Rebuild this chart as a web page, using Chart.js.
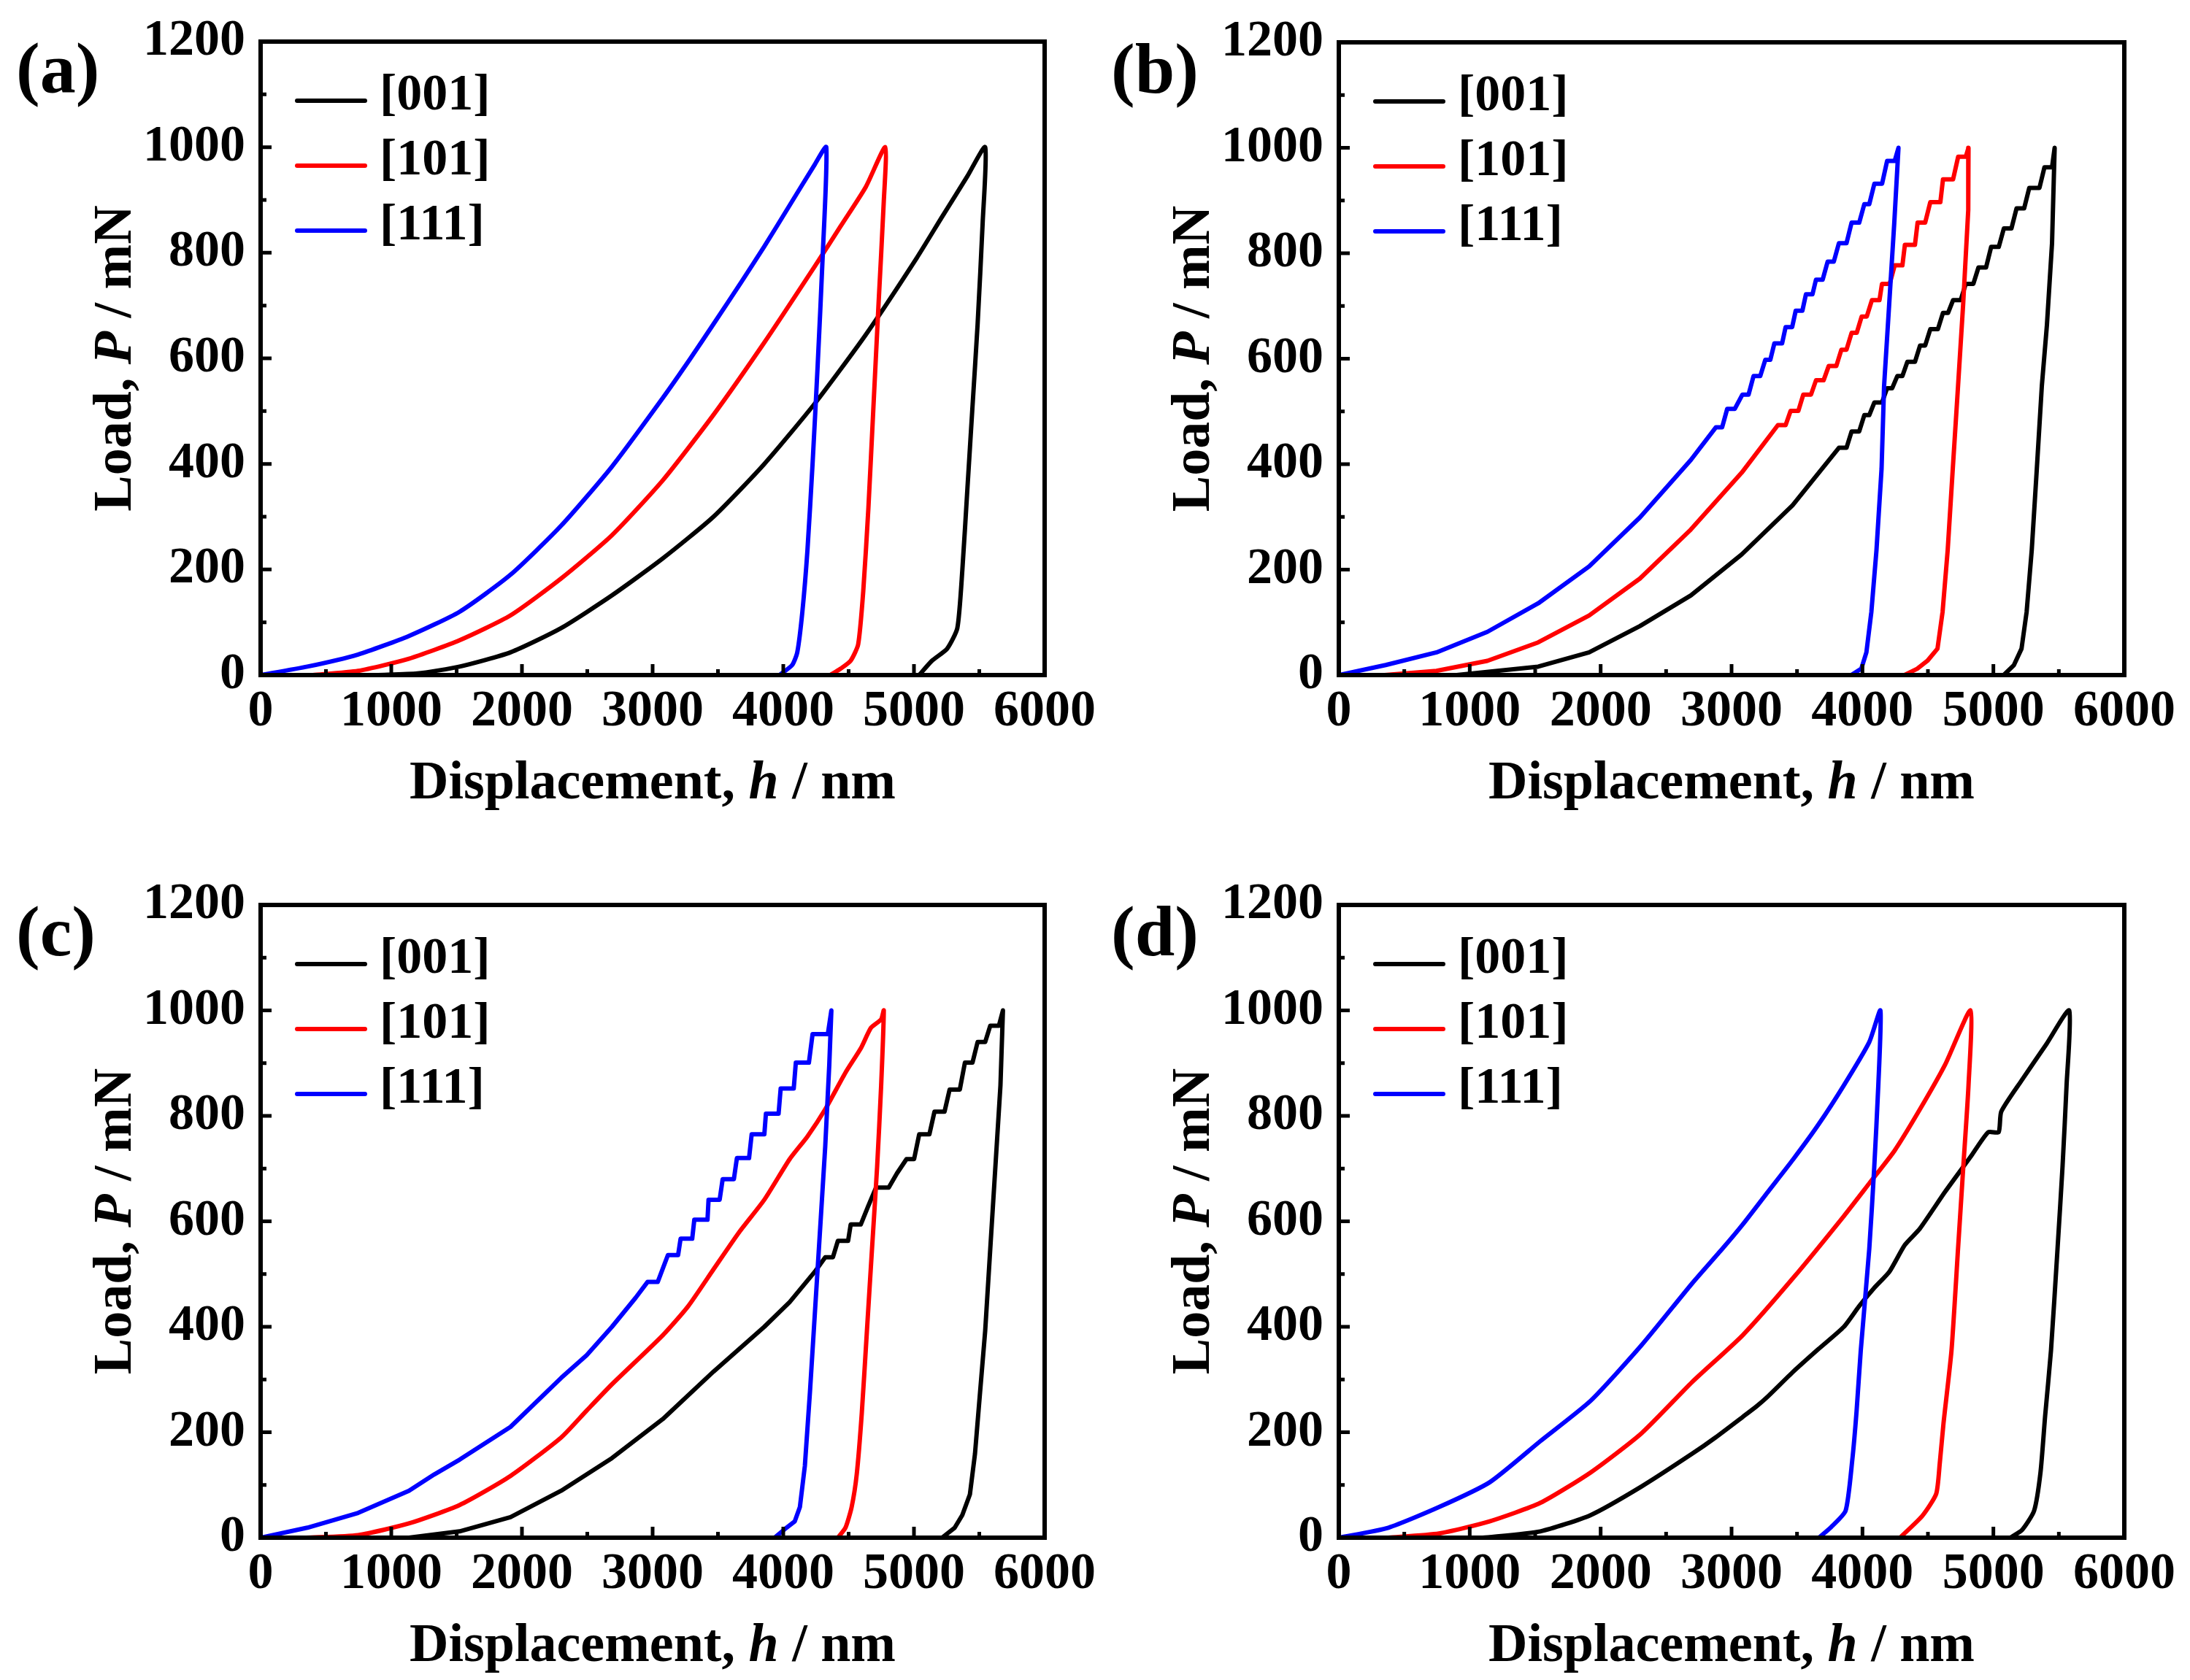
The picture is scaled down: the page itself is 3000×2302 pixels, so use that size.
<!DOCTYPE html>
<html>
<head>
<meta charset="utf-8">
<title>Load-displacement curves</title>
<script src="https://cdn.jsdelivr.net/npm/chart.js@4.4.1/dist/chart.umd.min.js"></script>
<style>
  html, body { margin: 0; padding: 0; background: #fff; }
  body { width: 3000px; height: 2302px; position: relative; overflow: hidden; }
  canvas { position: absolute; }
</style>
</head>
<body>
<canvas id="chartA" width="1560" height="1150" style="left:0px;top:0px"></canvas>
<canvas id="chartB" width="1500" height="1150" style="left:1500px;top:0px"></canvas>
<canvas id="chartC" width="1560" height="1152" style="left:0px;top:1150px"></canvas>
<canvas id="chartD" width="1500" height="1152" style="left:1500px;top:1150px"></canvas>
<script>
// tick labels and series names
const xTickValues = [0, 1000, 2000, 3000, 4000, 5000, 6000];
const yTickValues = [0, 200, 400, 600, 800, 1000, 1200];
const orientations = ['[001]', '[101]', '[111]'];
const panelLabels = ['(a)', '(b)', '(c)', '(d)'];

// (a) displacement h (nm) and load P (mN), loading then unloading
const a001H = [900, 1200, 1523, 1912, 2300, 2689, 3078, 3466, 3855, 4243, 4632, 5021, 5215, 5409, 5545, 5526, 5487, 5448, 5409, 5370, 5332, 5254, 5137, 5040];
const a001P = [0, 3, 16, 43, 89, 151, 221, 300, 400, 515, 645, 790, 868, 945, 1000, 858, 664, 509, 353, 198, 89, 50, 27, 0];
const a101H = [400, 746, 1135, 1523, 1912, 2300, 2689, 3078, 3466, 3855, 4243, 4438, 4632, 4780, 4769, 4729, 4690, 4651, 4612, 4573, 4515, 4438, 4360];
const a101P = [0, 8, 31, 66, 113, 183, 265, 369, 493, 630, 775, 850, 925, 1000, 897, 703, 509, 315, 159, 58, 27, 12, 0];
const a111H = [0, 358, 746, 1135, 1523, 1912, 2300, 2689, 3078, 3290, 3466, 3680, 3855, 4049, 4243, 4329, 4302, 4263, 4224, 4185, 4146, 4107, 4068, 3971];
const a111P = [0, 16, 39, 74, 120, 190, 283, 395, 525, 600, 665, 745, 812, 890, 968, 1000, 796, 586, 400, 237, 120, 43, 19, 0];

// (b)
const b001H = [900, 1523, 1912, 2300, 2689, 3078, 3466, 3820, 3878, 3917, 3975, 4014, 4052, 4091, 4149, 4188, 4227, 4266, 4305, 4343, 4401, 4440, 4479, 4518, 4576, 4615, 4654, 4692, 4750, 4789, 4847, 4886, 4944, 4983, 5041, 5080, 5138, 5177, 5235, 5274, 5352, 5390, 5448, 5468, 5448, 5409, 5370, 5332, 5293, 5254, 5215, 5157, 5079];
const b001P = [0, 16, 43, 93, 151, 229, 322, 431, 431, 462, 462, 493, 493, 517, 517, 544, 544, 567, 567, 594, 594, 625, 625, 656, 656, 687, 687, 711, 711, 742, 742, 773, 773, 812, 812, 847, 847, 885, 885, 924, 924, 963, 963, 1000, 819, 664, 548, 392, 237, 120, 50, 19, 0];
const b101H = [350, 746, 1135, 1523, 1912, 2300, 2689, 3078, 3354, 3413, 3451, 3510, 3548, 3607, 3645, 3703, 3742, 3800, 3839, 3878, 3917, 3956, 3994, 4033, 4072, 4130, 4149, 4208, 4246, 4305, 4324, 4401, 4421, 4479, 4518, 4595, 4615, 4692, 4731, 4789, 4810, 4808, 4769, 4730, 4690, 4651, 4612, 4573, 4496, 4418, 4321];
const b101P = [0, 8, 27, 62, 113, 183, 276, 384, 474, 474, 501, 501, 532, 532, 559, 559, 586, 586, 617, 617, 649, 649, 680, 680, 711, 711, 742, 742, 777, 777, 816, 816, 858, 858, 897, 897, 940, 940, 983, 983, 1000, 882, 703, 548, 392, 237, 120, 50, 27, 12, 0];
const b111H = [0, 358, 746, 1135, 1523, 1912, 2300, 2689, 2881, 2928, 2967, 3025, 3083, 3130, 3168, 3219, 3258, 3296, 3327, 3386, 3413, 3463, 3490, 3541, 3568, 3618, 3645, 3696, 3734, 3781, 3820, 3878, 3917, 3975, 4014, 4052, 4091, 4150, 4188, 4246, 4275, 4243, 4204, 4165, 4146, 4107, 4068, 4030, 3991, 3914];
const b111P = [0, 19, 43, 82, 136, 206, 299, 408, 470, 470, 505, 505, 532, 532, 567, 567, 598, 598, 629, 629, 660, 660, 691, 691, 722, 722, 750, 750, 784, 784, 819, 819, 858, 858, 893, 893, 932, 932, 975, 975, 1000, 858, 703, 548, 392, 237, 120, 43, 12, 0];

// (c)
const c001H = [1135, 1523, 1912, 2300, 2689, 3078, 3466, 3855, 4049, 4243, 4321, 4380, 4418, 4496, 4516, 4593, 4650, 4710, 4807, 4870, 4943, 5001, 5040, 5118, 5157, 5234, 5273, 5351, 5390, 5448, 5487, 5545, 5584, 5650, 5681, 5662, 5623, 5584, 5545, 5506, 5467, 5428, 5370, 5312, 5215];
const c001P = [0, 12, 39, 89, 151, 225, 315, 400, 447, 505, 532, 532, 563, 563, 594, 594, 629, 664, 664, 691, 718, 718, 765, 765, 808, 808, 850, 850, 901, 901, 940, 940, 971, 971, 1000, 858, 703, 548, 392, 276, 159, 82, 43, 19, 0];
const c101H = [350, 746, 1135, 1523, 1912, 2300, 2495, 2689, 3078, 3272, 3466, 3661, 3855, 4049, 4185, 4320, 4476, 4593, 4671, 4749, 4769, 4749, 4718, 4679, 4640, 4601, 4562, 4523, 4476, 4418];
const c101P = [0, 5, 27, 62, 117, 190, 241, 291, 384, 439, 509, 579, 641, 718, 761, 812, 882, 928, 967, 983, 1000, 858, 703, 548, 392, 237, 120, 58, 19, 0];
const c111H = [0, 358, 746, 1135, 1329, 1523, 1912, 2300, 2495, 2689, 2870, 2961, 3039, 3117, 3195, 3214, 3303, 3319, 3420, 3428, 3513, 3536, 3622, 3645, 3738, 3758, 3855, 3867, 3964, 3980, 4080, 4096, 4196, 4224, 4341, 4368, 4352, 4321, 4282, 4243, 4204, 4165, 4127, 4088, 4010, 3933];
const c111P = [0, 19, 47, 89, 120, 148, 210, 303, 346, 400, 455, 485, 485, 536, 536, 567, 567, 603, 603, 641, 641, 680, 680, 720, 720, 765, 765, 804, 804, 852, 852, 901, 901, 955, 955, 1000, 897, 742, 586, 431, 276, 136, 58, 31, 16, 0];

// (d)
const d001H = [1100, 1539, 1925, 2312, 2698, 2877, 3085, 3195, 3278, 3472, 3665, 3858, 3974, 4091, 4207, 4323, 4438, 4631, 4825, 4960, 5040, 5060, 5212, 5405, 5579, 5559, 5528, 5490, 5440, 5395, 5360, 5311, 5220, 5128];
const d001P = [0, 12, 43, 97, 159, 190, 229, 250, 268, 315, 358, 400, 439, 474, 505, 555, 586, 656, 722, 769, 769, 808, 866, 936, 1000, 858, 703, 548, 355, 230, 124, 51, 15, 0];
const d101H = [379, 765, 1152, 1539, 1925, 2312, 2698, 3085, 3472, 3858, 4052, 4245, 4438, 4631, 4825, 4810, 4770, 4730, 4680, 4619, 4590, 4563, 4456, 4286];
const d101P = [0, 8, 31, 66, 124, 198, 295, 384, 493, 610, 672, 734, 812, 897, 1000, 858, 703, 548, 355, 217, 140, 83, 41, 0];
const d111H = [0, 379, 765, 1152, 1539, 1925, 2312, 2698, 2930, 3085, 3278, 3472, 3665, 3858, 4052, 4137, 4121, 4090, 4052, 3987, 3955, 3922, 3871, 3760, 3667];
const d111P = [0, 19, 58, 105, 183, 260, 365, 482, 548, 594, 656, 718, 784, 858, 940, 1000, 858, 703, 548, 355, 240, 147, 51, 20, 0];

const lineColors = ['#000000', '#ff0000', '#0000ff'];
const serif = '"Liberation Serif", "Times New Roman", serif';

function points(h, p) {
    return h.map((v, i) => ({ x: v, y: p[i] }));
}

// text made of upright and italic pieces, centred on (cx, cy)
function drawRich(ctx, parts, cx, cy, size) {
    const fonts = parts.map(p => `${p.italic ? 'italic ' : ''}bold ${size}px ${serif}`);
    const widths = parts.map((p, i) => { ctx.font = fonts[i]; return ctx.measureText(p.text).width; });
    let x = cx - widths.reduce((s, w) => s + w, 0) / 2;
    ctx.textAlign = 'left';
    ctx.textBaseline = 'alphabetic';
    parts.forEach((p, i) => {
        ctx.font = fonts[i];
        ctx.fillText(p.text, x, cy);
        x += widths[i];
    });
}

const decorations = {
    id: 'decorations',
    afterDatasetsDraw(chart) {
        const { ctx, chartArea: area, scales } = chart;
        const label = chart.options.plugins.decorations.label;
        ctx.save();
        ctx.strokeStyle = '#000';
        ctx.fillStyle = '#000';

        // box round the plot
        ctx.lineWidth = 6;
        ctx.strokeRect(area.left, area.top, area.right - area.left, area.bottom - area.top);

        // inward major and minor ticks
        ctx.lineWidth = 5;
        ctx.beginPath();
        xTickValues.forEach((v, i) => {
            const px = scales.x.getPixelForValue(v);
            ctx.moveTo(px, area.bottom);
            ctx.lineTo(px, area.bottom - 15);
            if (i < xTickValues.length - 1) {
                const mx = scales.x.getPixelForValue((v + xTickValues[i + 1]) / 2);
                ctx.moveTo(mx, area.bottom);
                ctx.lineTo(mx, area.bottom - 8);
            }
        });
        yTickValues.forEach((v, i) => {
            const py = scales.y.getPixelForValue(v);
            ctx.moveTo(area.left, py);
            ctx.lineTo(area.left + 15, py);
            if (i < yTickValues.length - 1) {
                const my = scales.y.getPixelForValue((v + yTickValues[i + 1]) / 2);
                ctx.moveTo(area.left, my);
                ctx.lineTo(area.left + 8, my);
            }
        });
        ctx.stroke();

        // legend, top left inside the plot
        ctx.lineCap = 'round';
        orientations.forEach((name, i) => {
            const ly = area.top + 81 + i * 89;
            ctx.strokeStyle = lineColors[i];
            ctx.lineWidth = 6;
            ctx.beginPath();
            ctx.moveTo(area.left + 50, ly);
            ctx.lineTo(area.left + 143, ly);
            ctx.stroke();
            ctx.font = `bold 70px ${serif}`;
            ctx.textAlign = 'left';
            ctx.textBaseline = 'middle';
            ctx.fillText(name, area.left + 163, ly - 6);
        });

        // axis titles
        drawRich(ctx, [
            { text: 'Displacement, ' },
            { text: 'h', italic: true },
            { text: ' / nm' }
        ], (area.left + area.right) / 2, area.bottom + 169, 74);

        ctx.save();
        ctx.translate(area.left - 178, (area.top + area.bottom) / 2);
        ctx.rotate(-Math.PI / 2);
        drawRich(ctx, [
            { text: 'Load, ' },
            { text: 'P', italic: true },
            { text: ' / mN' }
        ], 0, 0, 74);
        ctx.restore();

        // panel letter
        ctx.font = `bold 98px ${serif}`;
        ctx.textAlign = 'left';
        ctx.textBaseline = 'alphabetic';
        ctx.fillText(label, 22, area.top + 69);
        ctx.restore();
    }
};

// box = [left, top, right, bottom] of the plot area inside the canvas
function makeChart(id, label, series, box, tensions) {
    const canvas = document.getElementById(id);
    const ctx = canvas.getContext('2d');
    const tickFont = { family: serif, size: 70, weight: 'bold' };
    const yAxisWidth = box[0];
    const xAxisHeight = canvas.height - box[3];

    new Chart(ctx, {
        type: 'line',
        data: {
            datasets: series.map((s, i) => ({
                label: orientations[i],
                data: points(s[0], s[1]),
                borderColor: lineColors[i],
                borderWidth: 6,
                pointRadius: 0,
                tension: tensions[i],
                fill: false,
                borderJoinStyle: 'round',
                borderCapStyle: 'round',
                order: 2 - i
            }))
        },
        options: {
            responsive: false,
            devicePixelRatio: 1,
            animation: false,
            events: [],
            layout: { padding: { left: 0, bottom: 0, top: box[1], right: canvas.width - box[2] } },
            scales: {
                x: {
                    type: 'linear',
                    min: 0,
                    max: 6000,
                    grid: { display: false, drawTicks: false },
                    border: { display: false },
                    afterBuildTicks: scale => { scale.ticks = xTickValues.map(v => ({ value: v })); },
                    afterFit: scale => {
                        scale.height = xAxisHeight;
                        scale.paddingLeft = scale.paddingRight = 0;
                    },
                    ticks: {
                        autoSkip: false,
                        maxRotation: 0,
                        minRotation: 0,
                        padding: 9,
                        color: '#000',
                        font: tickFont,
                        callback: value => String(value)
                    }
                },
                y: {
                    min: 0,
                    max: 1200,
                    grid: { display: false, drawTicks: false },
                    border: { display: false },
                    afterBuildTicks: scale => { scale.ticks = yTickValues.map(v => ({ value: v })); },
                    afterFit: scale => {
                        scale.width = yAxisWidth;
                        scale.paddingTop = scale.paddingBottom = 0;
                    },
                    ticks: {
                        autoSkip: false,
                        padding: 21,
                        color: '#000',
                        font: tickFont,
                        callback: value => String(value)
                    }
                }
            },
            plugins: {
                legend: { display: false },
                tooltip: { enabled: false },
                decorations: { label: label }
            }
        },
        plugins: [decorations]
    });
}

document.addEventListener("DOMContentLoaded", () => {
    makeChart('chartA', panelLabels[0],
        [[a001H, a001P], [a101H, a101P], [a111H, a111P]],
        [357, 57, 1431, 925], [0.2, 0.2, 0.2]);
    makeChart('chartB', panelLabels[1],
        [[b001H, b001P], [b101H, b101P], [b111H, b111P]],
        [334, 58, 1410, 925], [0, 0, 0]);
    makeChart('chartC', panelLabels[2],
        [[c001H, c001P], [c101H, c101P], [c111H, c111P]],
        [357, 90, 1431, 957], [0, 0.2, 0]);
    makeChart('chartD', panelLabels[3],
        [[d001H, d001P], [d101H, d101P], [d111H, d111P]],
        [334, 90, 1410, 957], [0.2, 0.2, 0.2]);
});
</script>
</body>
</html>
